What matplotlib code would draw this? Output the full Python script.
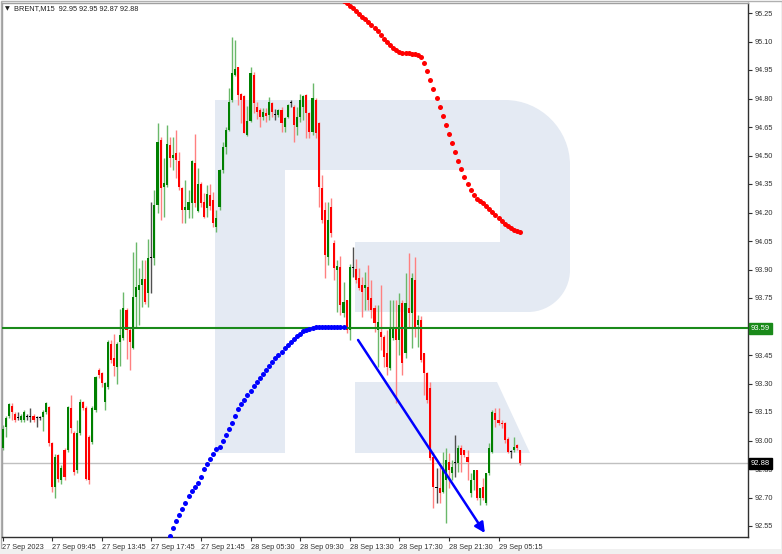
import matplotlib
matplotlib.use('Agg')
import matplotlib.pyplot as plt
from matplotlib.patches import Rectangle, Polygon, PathPatch
from matplotlib.path import Path
import matplotlib.transforms as mtransforms

# ---------------- data ----------------
opens = [92.96, 93.07, 93.13, 93.18, 93.14, 93.12, 93.11, 93.11, 93.125, 93.125,
         93.13, 93.12, 93.12, 93.125, 93.15, 93.175, 92.985, 92.757, 92.924, 92.79,
         92.95, 92.95, 93.17, 93.038, 92.845, 93.038, 93.204, 93.17, 93.02, 92.994,
         93.16, 93.371, 93.355, 93.204, 93.283, 93.51, 93.432, 93.389, 93.52, 93.538,
         93.687, 93.582, 93.485, 93.757, 93.79, 93.818, 93.848, 93.775, 93.959, 93.959,
         94.24, 94.582, 94.336, 94.345, 94.555, 94.489, 94.511, 94.473, 94.327, 94.213,
         94.213, 94.248, 94.459, 94.21, 94.348, 94.257, 94.222, 94.292, 94.266, 94.125,
         94.231, 94.424, 94.547, 94.634, 94.792, 94.924, 94.964, 94.824, 94.813, 94.608,
         94.683, 94.924, 94.757, 94.739, 94.704, 94.725, 94.713, 94.775, 94.713, 94.713,
         94.739, 94.652, 94.704, 94.775, 94.757, 94.652, 94.704, 94.757, 94.818, 94.722,
         94.625, 94.792, 94.669, 94.327, 94.213, 93.968, 94.231, 94.038, 93.897, 93.911,
         93.669, 93.739, 93.582, 93.906, 93.901, 93.854, 93.818, 93.801, 93.81, 93.748,
         93.696, 93.582, 93.573, 93.546, 93.459, 93.38, 93.538, 93.59, 93.529, 93.722,
         93.459, 93.696, 93.669, 93.845, 93.608, 93.634, 93.459, 93.354, 93.275, 92.915,
         92.75, 92.748, 92.731, 92.792, 92.889, 92.827, 92.88, 92.88, 92.959, 92.95,
         92.915, 92.722, 92.792, 92.845, 92.696, 92.754, 92.67, 92.827, 92.941, 93.143,
         93.108, 93.094, 93.094, 93.006, 92.941, 92.95, 92.976, 92.95]
highs = [93.08, 93.13, 93.20, 93.20, 93.15, 93.15, 93.14, 93.16, 93.14, 93.17,
         93.14, 93.13, 93.13, 93.16, 93.205, 93.18, 92.99, 92.93, 92.93, 92.87,
         92.96, 93.18, 93.24, 93.05, 93.11, 93.22, 93.21, 93.18, 93.03, 93.18,
         93.34, 93.38, 93.36, 93.31, 93.53, 93.53, 93.56, 93.52, 93.69, 93.78,
         93.70, 93.59, 93.994, 94.047, 93.906, 93.95, 93.95, 94.059, 94.257, 94.318,
         94.669, 94.599, 94.485, 94.661, 94.596, 94.599, 94.634, 94.52, 94.336, 94.371,
         94.318, 94.476, 94.613, 94.432, 94.362, 94.301, 94.345, 94.35, 94.31, 94.213,
         94.43, 94.573, 94.652, 94.853, 95.125, 95.108, 94.968, 94.827, 94.818, 94.76,
         94.968, 94.941, 94.783, 94.748, 94.748, 94.748, 94.81, 94.783, 94.743, 94.743,
         94.757, 94.704, 94.77, 94.792, 94.766, 94.757, 94.824, 94.818, 94.824, 94.731,
         94.88, 94.801, 94.678, 94.397, 94.257, 94.257, 94.275, 94.055, 93.95, 93.971,
         93.836, 93.74, 93.93, 94.02, 93.954, 93.906, 93.862, 93.889, 93.924, 93.845,
         93.713, 93.713, 93.818, 93.555, 93.582, 93.739, 93.739, 93.74, 93.775, 93.74,
         93.88, 93.989, 93.88, 93.968, 93.66, 93.655, 93.46, 93.36, 93.31, 92.941,
         92.854, 92.862, 92.941, 92.959, 92.933, 92.897, 93.03, 92.976, 92.976, 92.95,
         92.95, 92.827, 92.845, 92.845, 92.748, 92.801, 92.83, 92.989, 93.161, 93.169,
         93.169, 93.108, 93.10, 93.02, 92.95, 93.02, 92.98, 92.95]
lows = [92.95, 93.02, 93.12, 93.11, 93.10, 93.11, 93.10, 93.10, 93.11, 93.10,
        93.10, 93.07, 93.11, 93.05, 93.14, 92.97, 92.73, 92.696, 92.78, 92.77,
        92.79, 92.94, 93.04, 92.82, 92.83, 93.03, 93.16, 92.79, 92.77, 92.98,
        93.15, 93.33, 93.28, 93.16, 93.27, 93.41, 93.34, 93.30, 93.39, 93.53,
        93.43, 93.37, 93.48, 93.60, 93.608, 93.704, 93.72, 93.704, 93.775, 93.924,
        94.196, 94.161, 94.178, 94.336, 94.441, 94.424, 94.38, 94.318, 94.147, 94.147,
        94.169, 94.169, 94.231, 94.204, 94.231, 94.169, 94.178, 94.213, 94.125, 94.099,
        94.213, 94.406, 94.508, 94.63, 94.783, 94.92, 94.766, 94.669, 94.617, 94.605,
        94.678, 94.722, 94.69, 94.652, 94.687, 94.678, 94.687, 94.704, 94.687, 94.704,
        94.625, 94.625, 94.696, 94.757, 94.573, 94.608, 94.678, 94.687, 94.59, 94.59,
        94.608, 94.59, 94.231, 94.143, 93.854, 93.924, 94.073, 93.845, 93.678, 93.661,
        93.652, 93.564, 93.529, 93.862, 93.827, 93.792, 93.652, 93.687, 93.687, 93.643,
        93.573, 93.389, 93.476, 93.389, 93.345, 93.371, 93.529, 93.196, 93.45, 93.345,
        93.433, 93.599, 93.485, 93.547, 93.494, 93.415, 93.24, 93.20, 92.897, 92.643,
        92.67, 92.67, 92.722, 92.564, 92.748, 92.792, 92.81, 92.836, 92.836, 92.915,
        92.792, 92.705, 92.74, 92.687, 92.661, 92.687, 92.661, 92.82, 92.933, 93.073,
        93.082, 93.064, 92.985, 92.933, 92.906, 92.941, 92.95, 92.87]
closes = [93.06, 93.12, 93.19, 93.15, 93.11, 93.12, 93.13, 93.15, 93.125, 93.125,
          93.11, 93.12, 93.12, 93.15, 93.195, 92.985, 92.757, 92.915, 92.80, 92.853,
          92.81, 93.178, 93.064, 92.836, 93.038, 93.204, 93.17, 92.80, 92.79, 93.17,
          93.336, 93.345, 93.301, 93.301, 93.52, 93.424, 93.394, 93.51, 93.555, 93.696,
          93.582, 93.52, 93.757, 93.81, 93.818, 93.848, 93.731, 93.959, 93.959, 94.24,
          94.573, 94.327, 94.354, 94.561, 94.489, 94.503, 94.476, 94.336, 94.213, 94.231,
          94.257, 94.471, 94.248, 94.35, 94.248, 94.178, 94.297, 94.234, 94.143, 94.169,
          94.424, 94.543, 94.634, 94.783, 94.932, 94.953, 94.818, 94.792, 94.62, 94.683,
          94.932, 94.775, 94.731, 94.704, 94.731, 94.708, 94.78, 94.731, 94.713, 94.739,
          94.669, 94.696, 94.766, 94.775, 94.66, 94.704, 94.792, 94.813, 94.722, 94.625,
          94.801, 94.617, 94.336, 94.161, 93.976, 94.161, 94.09, 93.906, 93.918, 93.713,
          93.731, 93.582, 93.915, 93.906, 93.845, 93.801, 93.783, 93.818, 93.739, 93.687,
          93.617, 93.625, 93.546, 93.441, 93.389, 93.59, 93.599, 93.529, 93.713, 93.406,
          93.722, 93.669, 93.854, 93.599, 93.634, 93.424, 93.354, 93.213, 92.906, 92.757,
          92.75, 92.722, 92.854, 92.897, 92.845, 92.862, 92.88, 92.959, 92.924, 92.924,
          92.889, 92.792, 92.845, 92.696, 92.748, 92.696, 92.827, 92.959, 93.152, 93.108,
          93.09, 93.087, 93.003, 92.941, 92.941, 92.967, 92.959, 92.88]

# blue dotted curve (bar index 54 .. 110)
blue_start = 54
blue_dots = [92.497, 92.538, 92.578, 92.609, 92.641, 92.673, 92.708, 92.734, 92.757, 92.778,
             92.809, 92.848, 92.876, 92.901, 92.929, 92.953, 92.967, 92.997, 93.029, 93.059,
             93.094, 93.129, 93.164, 93.192, 93.213, 93.238, 93.262, 93.287, 93.309,
             93.329, 93.35, 93.371, 93.392, 93.413, 93.432, 93.45, 93.468, 93.487, 93.503,
             93.518, 93.534, 93.55, 93.563, 93.574, 93.582, 93.587, 93.592,
             93.596, 93.596, 93.596, 93.596, 93.596, 93.596, 93.596, 93.596, 93.596, 93.596]
# red dotted curve (bar index 110 .. 167)
red_start = 110
red_dots = [95.313, 95.303, 95.287, 95.274, 95.261, 95.245, 95.229, 95.216, 95.203, 95.187,
            95.171, 95.155, 95.134, 95.113, 95.097, 95.082, 95.066, 95.053, 95.045, 95.039,
            95.039, 95.037, 95.034, 95.034, 95.029, 95.018, 94.987, 94.945, 94.897, 94.85,
            94.803, 94.755, 94.708, 94.66, 94.613, 94.566, 94.518, 94.471, 94.429, 94.387,
            94.35, 94.318, 94.292, 94.271, 94.261, 94.25, 94.234, 94.218, 94.203, 94.187,
            94.171, 94.155, 94.139, 94.129, 94.118, 94.108, 94.103, 94.097]

level_price = 93.59
last_price = 92.88
arrow_from = (114.7, 93.529)
arrow_to = (155.6, 92.513)

xtick_bars = [0, 16, 32, 48, 64, 80, 96, 112, 128, 144, 160]
xtick_labels = ['27 Sep 2023', '27 Sep 09:45', '27 Sep 13:45', '27 Sep 17:45',
                '27 Sep 21:45', '28 Sep 05:30', '28 Sep 09:30', '28 Sep 13:30',
                '28 Sep 17:30', '28 Sep 21:30', '29 Sep 05:15']
ytick_values = [95.25, 95.10, 94.95, 94.80, 94.65, 94.50, 94.35, 94.20, 94.05, 93.90,
                93.75, 93.60, 93.45, 93.30, 93.15, 93.00, 92.85, 92.70, 92.55]
title_text = 'BRENT,M15  92.95 92.95 92.87 92.88'

# ---------------- figure ----------------
plt.rcParams['font.family'] = ['Liberation Sans', 'DejaVu Sans']
W, H = 782, 554
fig = plt.figure(figsize=(W / 100, H / 100), dpi=100)
fig.patch.set_facecolor('white')

# watermark (pixel coordinates)
wm = fig.add_axes([0, 0, 1, 1], zorder=0)
wm.set_xlim(0, W)
wm.set_ylim(H, 0)
wm.axis('off')
wmc = '#e4eaf3'
k = 0.55
verts = [(215, 100), (505, 100),
         (505 + 65 * k, 100), (570, 165 - 65 * k), (570, 165),
         (570, 270),
         (570, 270 + 42 * k), (528 + 42 * k, 312), (528, 312),
         (215, 312), (215, 100)]
codes = [Path.MOVETO, Path.LINETO,
         Path.CURVE4, Path.CURVE4, Path.CURVE4,
         Path.LINETO,
         Path.CURVE4, Path.CURVE4, Path.CURVE4,
         Path.LINETO, Path.CLOSEPOLY]
wm.add_patch(PathPatch(Path(verts, codes), facecolor=wmc, edgecolor='none'))
wm.add_patch(Rectangle((285, 170), 215, 72, facecolor='white', edgecolor='none'))
wm.add_patch(Rectangle((285, 170), 70, 142, facecolor='white', edgecolor='none'))
wm.add_patch(Rectangle((215, 100), 70, 353, facecolor=wmc, edgecolor='none'))
wm.add_patch(Polygon([(355, 382), (497, 382), (530, 453), (355, 453)],
                     closed=True, facecolor=wmc, edgecolor='none'))
# outer frame
wm.add_patch(Rectangle((0.5, 0.5), W - 1, H - 1, fill=False, edgecolor='#b0b0b0', lw=1))
wm.add_patch(Rectangle((0, 549), W, 5, facecolor='#f0f0f0', edgecolor='none'))

# main axes
left_px, right_px, top_px, bot_px = 2, 748, 3, 537
ax = fig.add_axes([left_px / W, (H - bot_px) / H, (right_px - left_px) / W, (bot_px - top_px) / H],
                  zorder=1)
ax.patch.set_alpha(0)
px_per_bar = 3.1
x0 = 2.5
ax.set_xlim((left_px - x0) / px_per_bar, (right_px - x0) / px_per_bar)
ppu = 190.0
ax.set_ylim(95.25 - (bot_px - 13) / ppu, 95.25 - (top_px - 13) / ppu)

n = len(closes)
for i in range(n):
    o, h, l, c = opens[i], highs[i], lows[i], closes[i]
    if c > o:
        body_c, wick_c = '#008000', '#6ab86a'
    elif c < o:
        body_c, wick_c = '#ff0000', '#ff8080'
    else:
        body_c, wick_c = '#000000', '#505050'
    ax.vlines(i, l, h, color=wick_c, lw=1.0, zorder=2)
    lo, hi = min(o, c), max(o, c)
    hgt = max(hi - lo, 0.006)
    ax.add_patch(Rectangle((i - 0.33, lo), 0.66, hgt, facecolor=body_c, edgecolor='none',
                           zorder=3))

# levels
ax.axhline(last_price, color='#c0c0c0', lw=1.0, zorder=1)
ax.axhline(level_price, color='#1a8a1a', lw=1.5, zorder=4)

# dotted curves
ax.plot(range(blue_start, blue_start + len(blue_dots)), blue_dots, 'o', color='#0000ff',
        ms=3.6, mec='none', zorder=5)
ax.plot(range(red_start, red_start + len(red_dots)), red_dots, 'o', color='#ff0000',
        ms=3.6, mec='none', zorder=5)

# arrow
ax.annotate('', xy=arrow_to, xytext=arrow_from,
            arrowprops=dict(arrowstyle='-|>,head_length=0.6,head_width=0.3',
                            color='#0000ff', lw=1.8, shrinkA=0, shrinkB=0), zorder=6)

# axes style
for s in ['top', 'left']:
    ax.spines[s].set_color('#a0a0a0')
    ax.spines[s].set_linewidth(1.0)
for s in ['right', 'bottom']:
    ax.spines[s].set_color('#303030')
    ax.spines[s].set_linewidth(1.0)

ax.yaxis.tick_right()
ax.set_yticks(ytick_values)
# the 93.60 label sits under the 93.59 level box in the terminal, so it is not shown
ax.set_yticklabels(['' if abs(v - level_price) < 0.02 else '%.2f' % v for v in ytick_values])
ax.tick_params(axis='y', which='both', direction='out', length=3, width=0.8, colors='#303030',
               labelsize=5.3, pad=2, right=True, left=False)
ax.set_xticks(xtick_bars)
ax.set_xticklabels(xtick_labels)
ax.tick_params(axis='x', direction='out', length=3, width=0.8, colors='#303030',
               labelsize=5.3, pad=2)
for lab in ax.get_xticklabels():
    lab.set_horizontalalignment('left')

# price boxes
trans = mtransforms.blended_transform_factory(ax.transAxes, ax.transData)
ax.text(1.004, level_price, '%.2f' % level_price, transform=trans, ha='left', va='center',
        fontsize=5.5, color='white', zorder=10,
        bbox=dict(boxstyle='square,pad=0.3', facecolor='#1a8a1a', edgecolor='#1a8a1a'))
ax.text(1.004, last_price, '%.2f' % last_price, transform=trans, ha='left', va='center',
        fontsize=5.5, color='white', zorder=10,
        bbox=dict(boxstyle='square,pad=0.3', facecolor='#000000', edgecolor='#000000'))

# title
fig.text(5 / W, 1 - 9 / H, '\u25bc', fontsize=4.5, color='#202020', va='center',
         family=['DejaVu Sans'])
fig.text(14 / W, 1 - 9 / H, title_text, fontsize=5.3, color='#202020', va='center')

fig.savefig('out.png', dpi=100, facecolor='white')
